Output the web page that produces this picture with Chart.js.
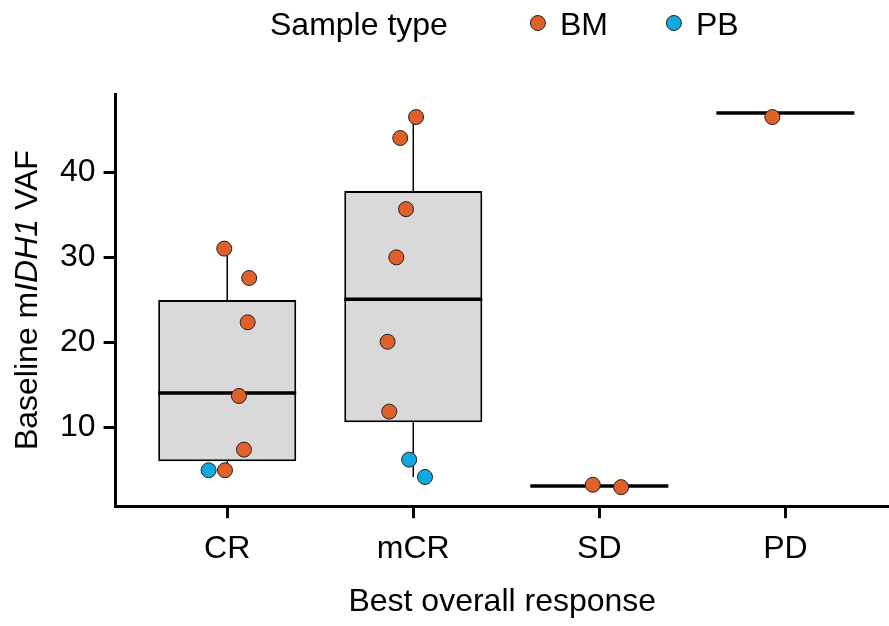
<!DOCTYPE html>
<html>
<head>
<meta charset="utf-8">
<script src="https://cdn.jsdelivr.net/npm/chart.js@4"></script>
<style>
  html, body { margin: 0; padding: 0; background: #fff; }
  #wrap { width: 889px; height: 626px; }
</style>
</head>
<body>
<div id="wrap"><canvas id="chart"></canvas></div>
<script>
const categories = ['CR', 'mCR', 'SD', 'PD'];
const yTicks = [10, 20, 30, 40];

// box stats (SD and PD only show a median line)
const boxLow = [6.04, 10.62, null, null];
const boxHigh = [25.0, 37.84, null, null];
const medians = [14.07, 25.1, 3.13, 47.0];
const whiskerLow = [4.98, 4.19, null, null];
const whiskerHigh = [31.06, 46.54, null, null];

// points: category index, horizontal jitter, value
const bmGroup = [0, 0, 0, 0, 0, 0, 1, 1, 1, 1, 1, 1, 2, 2, 3];
const bmJitter = [-0.016, 0.118, 0.110, 0.063, 0.090, -0.012, 0.015, -0.070, -0.039, -0.091, -0.138, -0.129, -0.035, 0.117, -0.070];
const bmValue = [31.06, 27.6, 22.39, 13.72, 7.41, 4.98, 46.54, 44.07, 35.7, 30.03, 20.1, 11.88, 3.27, 2.99, 46.54];
const pbGroup = [0, 1, 1];
const pbJitter = [-0.100, -0.022, 0.063];
const pbValue = [4.98, 6.23, 4.19];

const BM_COLOR = '#E0602A';
const PB_COLOR = '#12A9DE';
const FONT = "'Liberation Sans', Arial, sans-serif";
const FS = 32;

function points(group, jitter, value) {
    return group.map((g, i) => ({x: g + jitter[i], y: value[i]}));
}

function ranges(lo, hi) {
    const out = [];
    for (let i = 0; i < categories.length; i++) {
        if (lo[i] != null && hi[i] != null) out.push({x: i, y: [lo[i], hi[i]]});
    }
    return out;
}

// y title with italic gene name + horizontal legend like ggplot's
const extraText = {
    id: 'extraText',
    afterDraw(chart) {
        const {ctx, chartArea} = chart;
        ctx.save();
        ctx.fillStyle = '#000';
        ctx.textBaseline = 'alphabetic';

        const parts = [['Baseline m', ''], ['IDH1', 'italic '], [' VAF', '']];
        let total = 0;
        parts.forEach(p => {
            ctx.font = p[1] + FS + 'px ' + FONT;
            total += ctx.measureText(p[0]).width;
        });
        ctx.translate(37, (chartArea.top + chartArea.bottom) / 2);
        ctx.rotate(-Math.PI / 2);
        let x = -total / 2;
        parts.forEach(p => {
            ctx.font = p[1] + FS + 'px ' + FONT;
            ctx.fillText(p[0], x, 0);
            x += ctx.measureText(p[0]).width;
        });
        ctx.setTransform(1, 0, 0, 1, 0, 0);

        ctx.font = FS + 'px ' + FONT;
        let lx = 270;
        ctx.fillText('Sample type', lx, 35);
        lx += ctx.measureText('Sample type').width + 90;
        [['BM', BM_COLOR], ['PB', PB_COLOR]].forEach(item => {
            ctx.beginPath();
            ctx.arc(lx, 23, 7.5, 0, Math.PI * 2);
            ctx.fillStyle = item[1];
            ctx.fill();
            ctx.lineWidth = 1;
            ctx.strokeStyle = '#222';
            ctx.stroke();
            ctx.fillStyle = '#000';
            ctx.fillText(item[0], lx + 22, 35);
            lx += 22 + ctx.measureText(item[0]).width + 66;
        });
        ctx.restore();
    }
};

const axisCommon = {
    type: 'linear',
    offset: false,
    border: {display: true, color: '#000', width: 3},
    grid: {display: true, offset: false, drawOnChartArea: false, tickLength: 12, tickWidth: 3, tickColor: '#000'},
    ticks: {color: '#000', font: {family: FONT, size: FS}}
};

new Chart(document.getElementById('chart').getContext('2d'), {
    type: 'bar',
    data: {
        datasets: [
            {
                type: 'scatter', label: 'BM', order: 0,
                data: points(bmGroup, bmJitter, bmValue),
                backgroundColor: BM_COLOR, borderColor: '#222', borderWidth: 1,
                pointRadius: 7.5, pointHoverRadius: 7.5
            },
            {
                type: 'scatter', label: 'PB', order: 0,
                data: points(pbGroup, pbJitter, pbValue),
                backgroundColor: PB_COLOR, borderColor: '#222', borderWidth: 1,
                pointRadius: 7.5, pointHoverRadius: 7.5
            },
            {
                type: 'scatter', label: 'median', order: 1,
                data: medians.map((m, i) => ({x: i, y: m})),
                pointStyle: 'line', pointRadius: 69, pointHoverRadius: 69,
                borderColor: '#000', borderWidth: 3.5
            },
            {
                label: 'box', order: 2,
                data: ranges(boxLow, boxHigh),
                grouped: false, barPercentage: 0.742, categoryPercentage: 1,
                backgroundColor: '#d9d9d9', borderColor: '#000', borderWidth: 2, borderSkipped: false
            },
            {
                label: 'upper whisker', order: 3,
                data: ranges(boxHigh, whiskerHigh),
                grouped: false, maxBarThickness: 1.5, backgroundColor: '#000'
            },
            {
                label: 'lower whisker', order: 3,
                data: ranges(whiskerLow, boxLow),
                grouped: false, maxBarThickness: 1.5, backgroundColor: '#000'
            }
        ]
    },
    options: {
        responsive: true,
        maintainAspectRatio: false,
        animation: false,
        layout: {autoPadding: false, padding: {top: 94, left: 52, right: 0, bottom: 5}},
        plugins: {
            legend: {display: false},
            tooltip: {enabled: false}
        },
        scales: {
            x: Object.assign({}, axisCommon, {
                min: -0.6,
                max: 3.557,
                afterBuildTicks: axis => { axis.ticks = categories.map((c, i) => ({value: i})); },
                ticks: Object.assign({}, axisCommon.ticks, {
                    padding: 12,
                    maxRotation: 0,
                    callback: v => categories[v]
                }),
                title: {display: true, text: 'Best overall response', color: '#000',
                        font: {family: FONT, size: FS}, padding: {top: 2, bottom: 0}}
            }),
            y: Object.assign({}, axisCommon, {
                min: 0.75,
                max: 49.25,
                afterBuildTicks: axis => { axis.ticks = yTicks.map(v => ({value: v})); },
                ticks: Object.assign({}, axisCommon.ticks, {padding: 8})
            })
        }
    },
    plugins: [extraText]
});
</script>
</body>
</html>
